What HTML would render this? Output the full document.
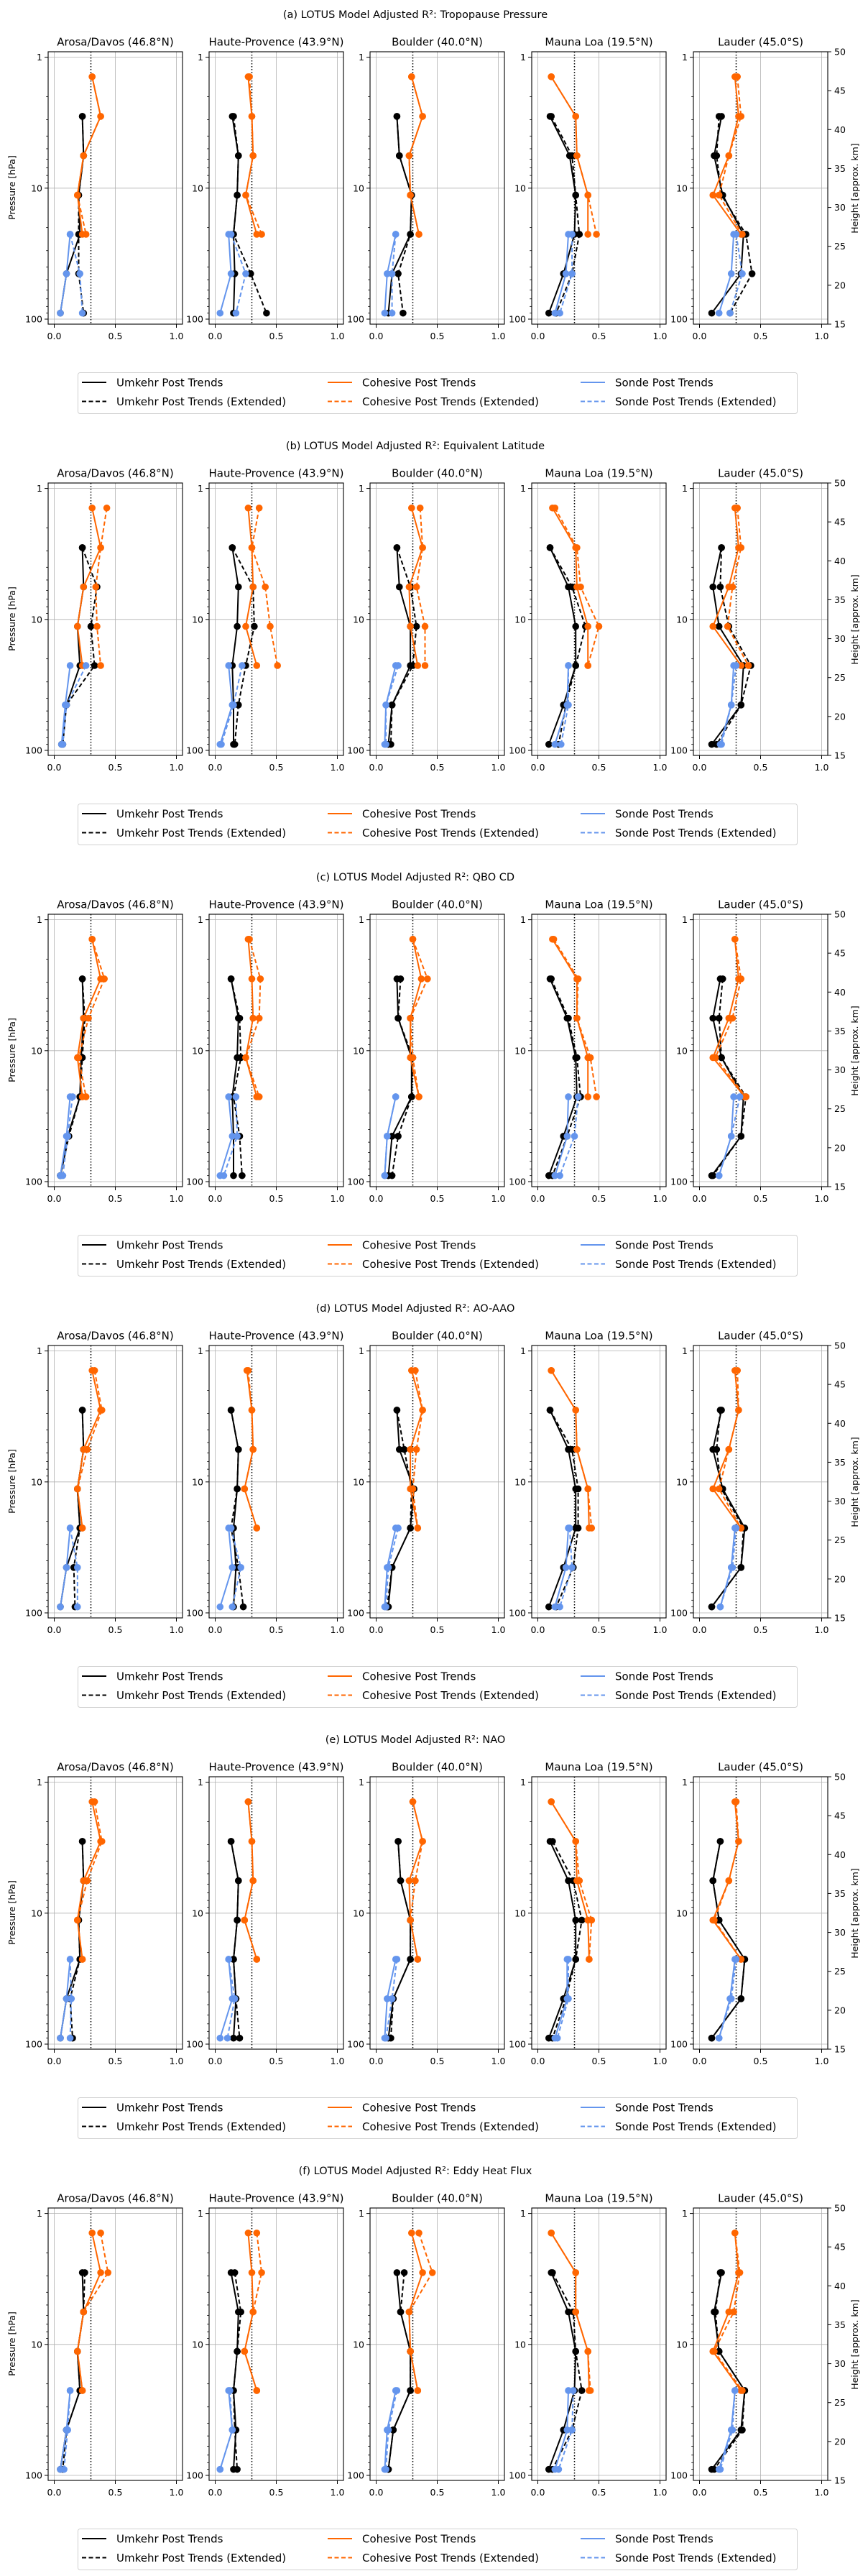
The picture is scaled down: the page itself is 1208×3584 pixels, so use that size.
<!DOCTYPE html>
<html><head><meta charset="utf-8"><title>LOTUS Model Adjusted R²</title>
<style>html,body{margin:0;padding:0;background:#fff}svg{display:block}text{font-family:"DejaVu Sans","Liberation Sans",sans-serif;fill:#000}</style>
</head><body>
<svg id="fig" xmlns="http://www.w3.org/2000/svg" width="1208" height="3584" viewBox="0 0 1208 3584"></svg>
<script>
// ---- data ----
const stations = ["Arosa/Davos (46.8°N)","Haute-Provence (43.9°N)","Boulder (40.0°N)","Mauna Loa (19.5°N)","Lauder (45.0°S)"];
const panelTitles = ["(a) LOTUS Model Adjusted R²: Tropopause Pressure","(b) LOTUS Model Adjusted R²: Equivalent Latitude","(c) LOTUS Model Adjusted R²: QBO CD","(d) LOTUS Model Adjusted R²: AO-AAO","(e) LOTUS Model Adjusted R²: NAO","(f) LOTUS Model Adjusted R²: Eddy Heat Flux"];
const umkehrLevels = [2.83,5.65,11.3,22.5,45,90];
const cohesiveLevels = [1.41,2.83,5.65,11.3,22.5];
const sondeLevels = [22.5,45,90];
const xTicks = [0,0.5,1.0];
const xTickLabels = ["0.0","0.5","1.0"];
const yTicks = [1,10,100];
const yTickLabels = ["1","10","100"];
const heightTicks = [15,20,25,30,35,40,45,50];
const threshold = 0.3;

const umkehr_a=[[0.23,0.24,0.20,0.21,0.10,0.05],[0.14,0.19,0.18,0.15,0.16,0.15],[0.17,0.19,0.29,0.28,0.13,0.10],[0.10,0.26,0.31,0.30,0.21,0.09],[0.18,0.12,0.19,0.36,0.34,0.10]];
const umkehrExt_a=[[0.23,0.24,0.20,0.20,0.20,0.24],[0.15,0.19,0.18,0.15,0.29,0.42],[0.17,0.19,0.29,0.28,0.18,0.22],[0.11,0.28,0.31,0.34,0.28,0.15],[0.16,0.14,0.18,0.38,0.43,0.25]];
const cohesive_a=[[0.31,0.38,0.24,0.19,0.23],[0.27,0.30,0.31,0.25,0.34],[0.29,0.38,0.27,0.28,0.35],[0.11,0.31,0.32,0.41,0.41],[0.29,0.32,0.24,0.11,0.34]];
const cohesiveExt_a=[[0.31,0.38,0.24,0.19,0.26],[0.28,0.30,0.31,0.25,0.38],[0.29,0.38,0.27,0.28,0.35],[0.11,0.31,0.32,0.41,0.48],[0.31,0.34,0.24,0.16,0.35]];
const sonde_a=[[0.13,0.10,0.05],[0.11,0.13,0.04],[0.16,0.09,0.07],[0.25,0.23,0.14],[0.28,0.26,0.16]];
const sondeExt_a=[[0.13,0.21,0.23],[0.13,0.25,0.17],[0.16,0.13,0.13],[0.28,0.28,0.18],[0.30,0.35,0.25]];

const umkehr_b=[[0.23,0.24,0.19,0.21,0.10,0.06],[0.14,0.19,0.18,0.14,0.15,0.15],[0.17,0.19,0.28,0.28,0.13,0.10],[0.10,0.25,0.31,0.31,0.21,0.09],[0.18,0.11,0.16,0.36,0.34,0.10]];
const umkehrExt_b=[[0.23,0.35,0.30,0.33,0.10,0.07],[0.14,0.31,0.32,0.25,0.19,0.16],[0.17,0.28,0.33,0.30,0.13,0.12],[0.10,0.28,0.39,0.31,0.23,0.17],[0.18,0.17,0.24,0.42,0.34,0.14]];
const cohesive_b=[[0.31,0.38,0.24,0.19,0.23],[0.27,0.30,0.31,0.25,0.34],[0.29,0.38,0.27,0.28,0.34],[0.12,0.31,0.32,0.41,0.41],[0.29,0.32,0.24,0.11,0.34]];
const cohesiveExt_b=[[0.43,0.38,0.34,0.35,0.38],[0.36,0.30,0.41,0.45,0.51],[0.36,0.38,0.33,0.40,0.40],[0.14,0.32,0.35,0.50,0.41],[0.31,0.34,0.27,0.23,0.40]];
const sonde_b=[[0.13,0.09,0.06],[0.11,0.14,0.04],[0.16,0.08,0.07],[0.25,0.24,0.14],[0.28,0.26,0.17]];
const sondeExt_b=[[0.26,0.10,0.07],[0.22,0.15,0.05],[0.18,0.08,0.08],[0.25,0.25,0.19],[0.30,0.26,0.18]];

const umkehr_c=[[0.23,0.24,0.22,0.21,0.11,0.05],[0.13,0.19,0.18,0.14,0.15,0.15],[0.17,0.18,0.29,0.29,0.13,0.10],[0.10,0.24,0.31,0.32,0.21,0.09],[0.17,0.11,0.18,0.36,0.34,0.10]];
const umkehrExt_c=[[0.23,0.25,0.23,0.21,0.12,0.05],[0.13,0.20,0.21,0.15,0.20,0.22],[0.20,0.18,0.30,0.29,0.18,0.13],[0.11,0.25,0.32,0.35,0.24,0.12],[0.19,0.16,0.18,0.38,0.34,0.11]];
const cohesive_c=[[0.31,0.38,0.24,0.19,0.23],[0.27,0.30,0.31,0.25,0.34],[0.30,0.37,0.28,0.28,0.35],[0.12,0.32,0.32,0.41,0.41],[0.29,0.32,0.24,0.11,0.37]];
const cohesiveExt_c=[[0.31,0.41,0.28,0.20,0.26],[0.28,0.37,0.36,0.25,0.36],[0.30,0.42,0.28,0.30,0.35],[0.13,0.33,0.32,0.43,0.48],[0.29,0.34,0.27,0.13,0.38]];
const sonde_c=[[0.13,0.10,0.05],[0.11,0.14,0.04],[0.16,0.09,0.07],[0.25,0.24,0.14],[0.28,0.26,0.16]];
const sondeExt_c=[[0.15,0.11,0.07],[0.17,0.18,0.07],[0.16,0.09,0.07],[0.33,0.30,0.18],[0.33,0.26,0.16]];

const umkehr_d=[[0.23,0.24,0.19,0.21,0.10,0.05],[0.13,0.19,0.18,0.15,0.17,0.15],[0.17,0.19,0.31,0.28,0.13,0.10],[0.10,0.25,0.31,0.31,0.21,0.09],[0.18,0.11,0.19,0.37,0.34,0.10]];
const umkehrExt_d=[[0.23,0.24,0.19,0.21,0.16,0.17],[0.13,0.19,0.18,0.13,0.19,0.23],[0.17,0.23,0.29,0.28,0.13,0.09],[0.10,0.28,0.33,0.33,0.29,0.15],[0.17,0.14,0.18,0.36,0.34,0.10]];
const cohesive_d=[[0.31,0.38,0.24,0.19,0.23],[0.26,0.30,0.31,0.24,0.34],[0.29,0.38,0.28,0.28,0.34],[0.11,0.31,0.32,0.41,0.42],[0.29,0.32,0.24,0.11,0.34]];
const cohesiveExt_d=[[0.33,0.39,0.27,0.19,0.23],[0.27,0.30,0.31,0.24,0.34],[0.32,0.38,0.33,0.30,0.34],[0.11,0.31,0.32,0.41,0.44],[0.31,0.32,0.24,0.16,0.34]];
const sonde_d=[[0.13,0.10,0.05],[0.11,0.14,0.04],[0.16,0.09,0.07],[0.25,0.23,0.14],[0.29,0.26,0.17]];
const sondeExt_d=[[0.13,0.19,0.19],[0.13,0.21,0.14],[0.18,0.10,0.08],[0.26,0.28,0.18],[0.30,0.27,0.17]];

const umkehr_e=[[0.23,0.24,0.20,0.21,0.10,0.05],[0.13,0.19,0.18,0.15,0.17,0.15],[0.18,0.20,0.28,0.28,0.14,0.10],[0.10,0.25,0.31,0.31,0.21,0.09],[0.17,0.11,0.16,0.37,0.34,0.10]];
const umkehrExt_e=[[0.23,0.24,0.20,0.21,0.13,0.15],[0.13,0.19,0.18,0.15,0.17,0.20],[0.18,0.20,0.28,0.28,0.14,0.12],[0.12,0.29,0.36,0.31,0.23,0.12],[0.17,0.11,0.16,0.37,0.34,0.10]];
const cohesive_e=[[0.31,0.38,0.24,0.19,0.23],[0.27,0.30,0.31,0.24,0.34],[0.30,0.38,0.27,0.28,0.34],[0.11,0.31,0.32,0.41,0.42],[0.29,0.32,0.24,0.11,0.34]];
const cohesiveExt_e=[[0.33,0.39,0.27,0.19,0.23],[0.27,0.30,0.31,0.24,0.34],[0.30,0.38,0.32,0.28,0.34],[0.11,0.31,0.34,0.44,0.42],[0.30,0.32,0.24,0.12,0.34]];
const sonde_e=[[0.13,0.10,0.05],[0.11,0.14,0.04],[0.16,0.09,0.07],[0.24,0.24,0.14],[0.29,0.25,0.16]];
const sondeExt_e=[[0.13,0.14,0.13],[0.11,0.16,0.10],[0.17,0.13,0.08],[0.25,0.25,0.16],[0.30,0.26,0.16]];

const umkehr_f=[[0.23,0.24,0.19,0.21,0.10,0.05],[0.13,0.19,0.18,0.15,0.17,0.15],[0.17,0.20,0.28,0.28,0.14,0.10],[0.11,0.25,0.31,0.30,0.21,0.09],[0.18,0.12,0.16,0.37,0.34,0.10]];
const umkehrExt_f=[[0.25,0.24,0.19,0.21,0.10,0.07],[0.16,0.21,0.18,0.15,0.16,0.18],[0.23,0.20,0.28,0.28,0.14,0.10],[0.12,0.29,0.31,0.36,0.28,0.12],[0.17,0.13,0.16,0.37,0.35,0.12]];
const cohesive_f=[[0.31,0.38,0.24,0.19,0.23],[0.27,0.30,0.31,0.24,0.34],[0.29,0.38,0.27,0.28,0.34],[0.11,0.31,0.31,0.41,0.42],[0.29,0.32,0.24,0.11,0.34]];
const cohesiveExt_f=[[0.38,0.44,0.24,0.19,0.23],[0.34,0.38,0.31,0.24,0.34],[0.35,0.46,0.27,0.28,0.34],[0.11,0.31,0.31,0.41,0.43],[0.29,0.33,0.28,0.12,0.35]];
const sonde_f=[[0.13,0.10,0.05],[0.11,0.14,0.04],[0.16,0.09,0.07],[0.25,0.24,0.14],[0.29,0.26,0.16]];
const sondeExt_f=[[0.13,0.11,0.08],[0.12,0.14,0.04],[0.17,0.10,0.08],[0.29,0.28,0.17],[0.29,0.27,0.17]];

const panels = [
 [umkehr_a,umkehrExt_a,cohesive_a,cohesiveExt_a,sonde_a,sondeExt_a],
 [umkehr_b,umkehrExt_b,cohesive_b,cohesiveExt_b,sonde_b,sondeExt_b],
 [umkehr_c,umkehrExt_c,cohesive_c,cohesiveExt_c,sonde_c,sondeExt_c],
 [umkehr_d,umkehrExt_d,cohesive_d,cohesiveExt_d,sonde_d,sondeExt_d],
 [umkehr_e,umkehrExt_e,cohesive_e,cohesiveExt_e,sonde_e,sondeExt_e],
 [umkehr_f,umkehrExt_f,cohesive_f,cohesiveExt_f,sonde_f,sondeExt_f]
];
const seriesNames = ["umkehr","umkehr-extended","cohesive","cohesive-extended","sonde","sonde-extended"];
const legendLabels = ["Umkehr Post Trends","Umkehr Post Trends (Extended)","Cohesive Post Trends","Cohesive Post Trends (Extended)","Sonde Post Trends","Sonde Post Trends (Extended)"];

// ---- layout ----
const NS="http://www.w3.org/2000/svg";
const svg=document.getElementById('fig');
const ROW=600, AXL=[67,291,515,740,965], AXW=187, AXT=72, AXB=451;
const colors=["#000000","#000000","#ff6600","#ff6600","#6495ed","#6495ed"];
const dashes=[null,"6,3.5",null,"6,3.5",null,"6,3.5"];
const levelsFor=[umkehrLevels,umkehrLevels,cohesiveLevels,cohesiveLevels,sondeLevels,sondeLevels];
function mk(tag,attrs,parent){const e=document.createElementNS(NS,tag);for(const k in attrs)e.setAttribute(k,attrs[k]);(parent||svg).appendChild(e);return e;}
function xs(L,v){return L+AXW*(v+0.05)/1.1;}
function ys(R,p){return R+79.6+Math.log10(p)*182.2;}
function hs(R,h){return R+AXB-(h-15)*(AXB-AXT)/35;}

panels.forEach((series,pi)=>{
  const R=pi*ROW;
  const g=mk('g',{});
  
  
  const st=mk('text',{x:578,y:R+25,'text-anchor':'middle','font-size':'14.5'},g);
  st.textContent=panelTitles[pi];
  
  
  stations.forEach((sn,si)=>{
    const L=AXL[si];
    const ag=mk('g',{},g);
    
    
    const t=mk('text',{x:L+AXW/2,y:R+63.5,'text-anchor':'middle','font-size':'15'},ag);
    t.textContent=sn;
    
    
    // grid
    xTicks.forEach(v=>{const x=xs(L,v);const l=mk('line',{x1:x,x2:x,y1:R+AXT,y2:R+AXB,stroke:'#b0b0b0','stroke-width':0.8},ag);});
    yTicks.forEach(p=>{const y=ys(R,p);const l=mk('line',{x1:L,x2:L+AXW,y1:y,y2:y,stroke:'#b0b0b0','stroke-width':0.8},ag);});
    // threshold
    const tx=xs(L,threshold);
    const th=mk('line',{x1:tx,x2:tx,y1:R+AXT,y2:R+AXB,stroke:'#000','stroke-width':1.5,'stroke-dasharray':'1.5,2.5'},ag);
    
    
    // series
    series.forEach((arr,k)=>{
      const vals=arr[si], lev=levelsFor[k];
      const pts=vals.map((v,i)=>xs(L,v).toFixed(1)+','+ys(R,lev[i]).toFixed(1)).join(' ');
      const pl=mk('polyline',{points:pts,fill:'none',stroke:colors[k],'stroke-width':2},ag);
      if(dashes[k])pl.setAttribute('stroke-dasharray',dashes[k]);
      
      
      vals.forEach((v,i)=>{
        const c=mk('circle',{cx:xs(L,v),cy:ys(R,lev[i]),r:4.8,fill:colors[k]},ag);
        
        
      });
    });
    // frame
    const fr=mk('rect',{x:L,y:R+AXT,width:AXW,height:AXB-AXT,fill:'none',stroke:'#000','stroke-width':1.1},ag);
    
    
    // x ticks
    xTicks.forEach((v,i)=>{const x=xs(L,v);mk('line',{x1:x,x2:x,y1:R+AXB,y2:R+AXB+5,stroke:'#000','stroke-width':1},ag);
      const tl=mk('text',{x:x,y:R+AXB+21,'text-anchor':'middle','font-size':'12.5'},ag);tl.textContent=xTickLabels[i];
      });
    // y ticks
    yTicks.forEach((p,i)=>{const y=ys(R,p);mk('line',{x1:L-5,x2:L,y1:y,y2:y,stroke:'#000','stroke-width':1},ag);
      const tl=mk('text',{x:L-8,y:y+4.5,'text-anchor':'end','font-size':'12.5'},ag);tl.textContent=yTickLabels[i];
      });
    [1,10].forEach(d=>{for(let m=2;m<=9;m++){const y=ys(R,d*m);mk('line',{x1:L-2.8,x2:L,y1:y,y2:y,stroke:'#000','stroke-width':0.8},ag);}});
    if(si===0){
      const yl=mk('text',{x:0,y:0,'text-anchor':'middle','font-size':'12.5',transform:'translate(21,'+(R+261)+') rotate(-90)'},ag);
      yl.textContent='Pressure [hPa]';
      
      
    }
    if(si===4){
      const xr=L+AXW;
      heightTicks.forEach(h=>{const y=hs(R,h);mk('line',{x1:xr,x2:xr+5,y1:y,y2:y,stroke:'#000','stroke-width':1},ag);
        const tl=mk('text',{x:xr+9,y:y+4.5,'font-size':'12.5'},ag);tl.textContent=String(h);
        });
      const hl=mk('text',{x:0,y:0,'text-anchor':'middle','font-size':'12.5',transform:'translate(1194,'+(R+262)+') rotate(-90)'},ag);
      hl.textContent='Height [approx. km]';
      
      
    }
  });
  // legend
  const lg=mk('g',{},g);
  
  
  mk('rect',{x:108.5,y:R+518.5,width:1001,height:57,rx:3,fill:'#fff',stroke:'#d0d0d0','stroke-width':1},lg);
  const colX=[114,456,808], rowY=[R+532,R+558.5];
  legendLabels.forEach((lab,k)=>{
    const c=Math.floor(k/2), r=k%2;
    const ln=mk('line',{x1:colX[c],x2:colX[c]+34,y1:rowY[r],y2:rowY[r],stroke:colors[k],'stroke-width':2},lg);
    if(dashes[k])ln.setAttribute('stroke-dasharray','6,3.5');
    const tt=mk('text',{x:colX[c]+48,y:rowY[r]+5.5,'font-size':'15'},lg);
    tt.textContent=lab;
    
    
  });
});
</script>
</body></html>
